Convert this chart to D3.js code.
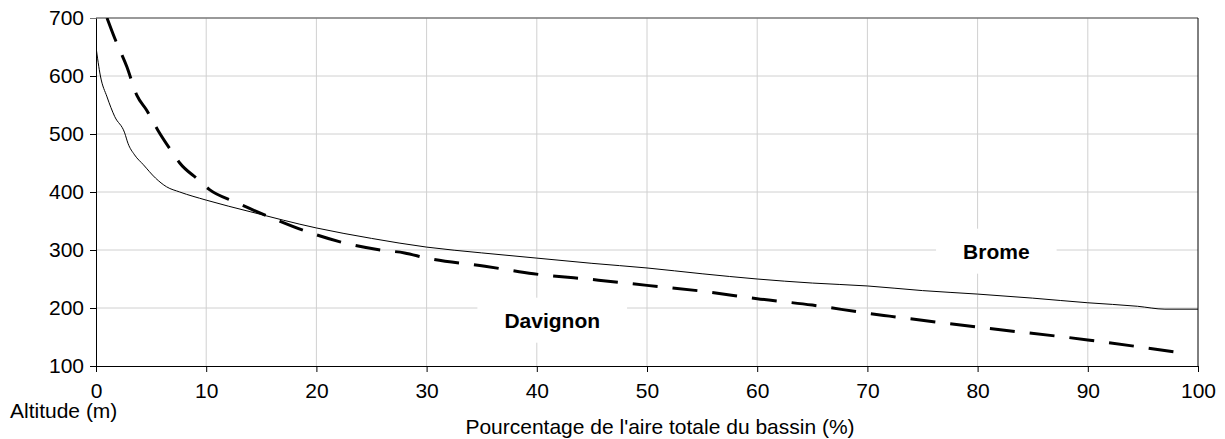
<!DOCTYPE html>
<html>
<head>
<meta charset="utf-8">
<script src="https://cdn.jsdelivr.net/npm/d3@7"></script>
<style>
  body { margin: 0; background: #fff; }
  text { font-family: "Liberation Sans", Arial, sans-serif; fill: #000; }
</style>
</head>
<body>
<script>
// % of basin area vs altitude (m)
const brome = [
  [0, 650], [0.4, 600], [1.0, 564], [1.7, 530], [2.6, 502], [2.9, 484], [3.5, 464],
  [4.3, 447], [5.4, 424], [6.4, 409], [7.6, 400], [10, 386], [14, 366], [20, 338],
  [25, 320], [30, 305], [35, 295], [40, 286], [45, 277], [50, 269], [55, 259],
  [60, 250], [65, 243], [70, 238], [75, 230], [80, 224], [85, 217], [90, 209],
  [94.5, 203], [97, 198], [100, 198]
];
const davignon = [
  [1.0, 700], [1.7, 665], [2.8, 616], [3.7, 567], [4.6, 541], [5.6, 507], [6.9, 469],
  [7.6, 450], [9.3, 421], [10.3, 404], [12.6, 383], [16, 355], [19.4, 330], [23, 310],
  [25.8, 300], [28, 295], [30, 286], [35.3, 272], [39.7, 259], [45.6, 248], [50, 239],
  [55, 229], [60, 216], [65, 205], [70, 191], [72, 186], [80, 167], [90, 145], [99, 121]
];
const xTicks = [0, 10, 20, 30, 40, 50, 60, 70, 80, 90, 100];
const yTicks = [100, 200, 300, 400, 500, 600, 700];
const labels = [
  { name: "Brome", x: 81.7, y: 298 },
  { name: "Davignon", x: 41.4, y: 179 }
];

const w = 1225;
const h = 439;
const mLeft = 96, mRight = 1198, mTop = 18, mBottom = 366;
const fs = 21;

const xScale = d3.scaleLinear().domain([0, 100]).range([mLeft, mRight]);
const yScale = d3.scaleLinear().domain([100, 700]).range([mBottom, mTop]);

const svg = d3.select("body").append("svg")
  .attr("width", w)
  .attr("height", h);

// grid
svg.append("g")
  .selectAll("line")
  .data(xTicks.filter(d => d > 0 && d < 100))
  .enter().append("line")
  .attr("x1", d => xScale(d)).attr("x2", d => xScale(d))
  .attr("y1", mTop).attr("y2", mBottom)
  .attr("stroke", "#d0d0d0").attr("stroke-width", 1);

svg.append("g")
  .selectAll("line")
  .data(yTicks.filter(d => d > 100 && d < 700))
  .enter().append("line")
  .attr("x1", mLeft).attr("x2", mRight)
  .attr("y1", d => yScale(d)).attr("y2", d => yScale(d))
  .attr("stroke", "#d0d0d0").attr("stroke-width", 1);

// frame: grey top, black right
svg.append("line")
  .attr("x1", mLeft).attr("x2", mRight)
  .attr("y1", mTop).attr("y2", mTop)
  .attr("stroke", "#777").attr("stroke-width", 1.5);
svg.append("line")
  .attr("x1", mRight).attr("x2", mRight)
  .attr("y1", mTop).attr("y2", mBottom)
  .attr("stroke", "#000").attr("stroke-width", 1);

// label boxes hide the grid
labels.forEach(l => {
  const t = svg.append("text")
    .attr("x", xScale(l.x))
    .attr("y", yScale(l.y))
    .attr("text-anchor", "middle")
    .attr("dominant-baseline", "central")
    .attr("font-size", fs)
    .attr("font-weight", "bold")
    .text(l.name);
  const bb = t.node().getBBox();
  svg.insert("rect", "text")
    .attr("x", bb.x - 27).attr("y", bb.y - 11)
    .attr("width", bb.width + 54).attr("height", bb.height + 22)
    .attr("fill", "#fff");
});

svg.append("clipPath").attr("id", "plot")
  .append("rect")
  .attr("x", mLeft).attr("y", mTop)
  .attr("width", mRight - mLeft).attr("height", mBottom - mTop);

const line = d3.line()
  .x(d => xScale(d[0]))
  .y(d => yScale(d[1]))
  .curve(d3.curveMonotoneX);

svg.append("path")
  .datum(brome)
  .attr("clip-path", "url(#plot)")
  .attr("d", line)
  .attr("fill", "none")
  .attr("stroke", "#000")
  .attr("stroke-width", 1);

svg.append("path")
  .datum(davignon)
  .attr("clip-path", "url(#plot)")
  .attr("d", line)
  .attr("fill", "none")
  .attr("stroke", "#000")
  .attr("stroke-width", 3)
  .attr("stroke-dasharray", "25,15");

// axes
const xAxis = d3.axisBottom(xScale).tickValues(xTicks).tickSize(6).tickSizeOuter(0).tickPadding(11);
const yAxis = d3.axisLeft(yScale).tickValues(yTicks).tickSize(6).tickSizeOuter(0).tickPadding(6);

svg.append("g")
  .attr("transform", "translate(0," + mBottom + ")")
  .call(xAxis)
  .call(g => g.selectAll("text").attr("font-size", fs).attr("font-family", "Liberation Sans, Arial, sans-serif"))
  .call(g => g.selectAll("line, path").attr("stroke", "#000"));

svg.append("g")
  .attr("transform", "translate(" + mLeft + ",0)")
  .call(yAxis)
  .call(g => g.selectAll("text").attr("font-size", fs).attr("font-family", "Liberation Sans, Arial, sans-serif"))
  .call(g => g.selectAll("line, path").attr("stroke", "#000"))
  .call(g => g.selectAll(".tick").filter(d => d === 700).select("line").attr("stroke", "#777"));

svg.append("text")
  .attr("x", 10)
  .attr("y", 418)
  .attr("font-size", fs)
  .text("Altitude (m)");

svg.append("text")
  .attr("x", 660)
  .attr("y", 434)
  .attr("text-anchor", "middle")
  .attr("font-size", fs)
  .text("Pourcentage de l'aire totale du bassin (%)");
</script>
</body>
</html>
